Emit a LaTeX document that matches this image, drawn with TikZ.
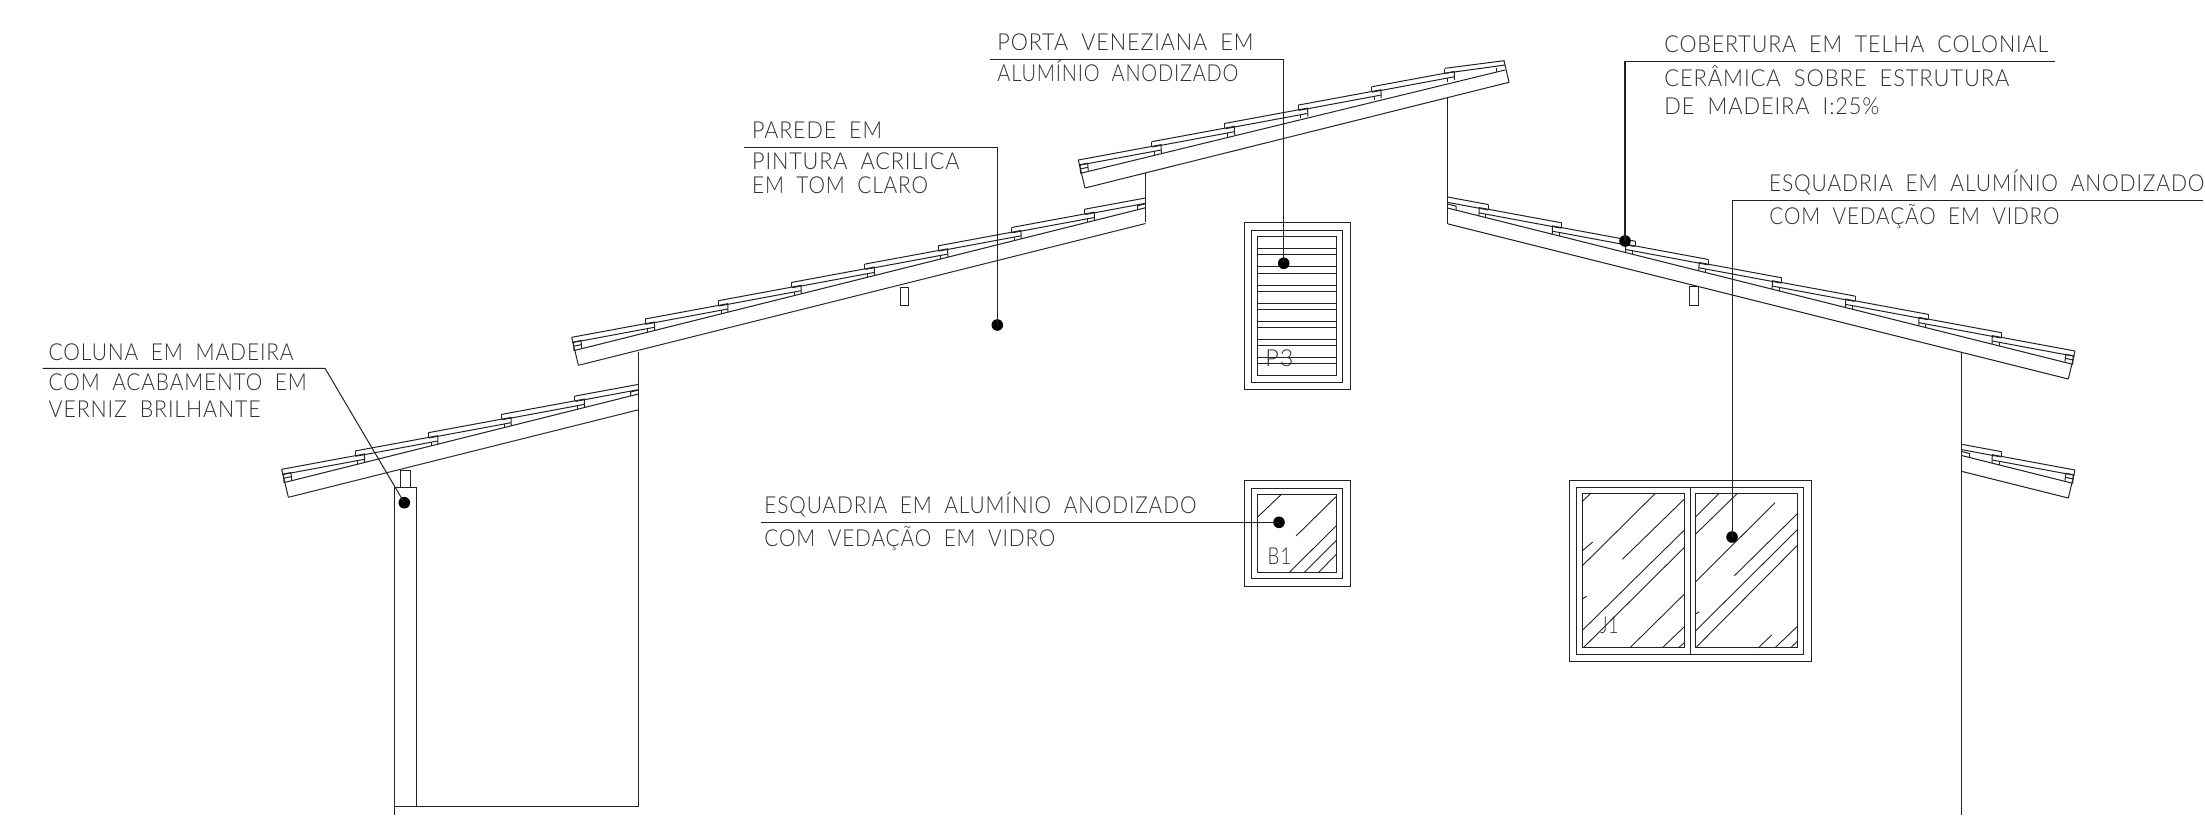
\documentclass[tikz,border=0pt]{standalone}
\usepackage{fontspec}
\usepackage{graphicx}
\setmainfont{Lato}[UprightFont=* Light]
\definecolor{ln}{HTML}{222222}
\definecolor{tx}{HTML}{303030}
\tikzset{
  ink/.style={draw=ln,line width=0.5pt,line join=miter},
  hatchline/.style={draw=ln,line width=0.45pt},
  leader/.style={draw=ln,line width=0.5pt},
  leaderdot/.style={circle,fill=black,inner sep=0pt,minimum size=5.8pt},
  cadtext/.style={anchor=base west,inner sep=0pt,text=tx,font=\fontsize{11.7pt}{13pt}\selectfont\addfontfeature{LetterSpace=4}},
}
\newcommand{\lbl}[5]{\node[cadtext] (#1) at (#2,#3) {\resizebox{\dimexpr #4pt*1/2\relax}{\height}{\spaceskip=0.6em #5}};}
% one tile, local coordinates in px from its lower end
\newcommand{\rooftile}{%
  \draw[ink] (0,0) -- (82.7,-15.3) -- (83,-6.9);
  \draw[ink] (73.3,-18.3) -- (73.3,-13.3);
  \draw[ink] (0.5,5.3) -- (82.7,-10);
  \draw[ink] (76,-8.7) -- (76,-5.1);
}
% eave end of a roof
\newcommand{\roofeave}{%
  \draw[ink] (1.7,4.7) -- (9.3,3.3) -- (10,10.6);
  \draw[ink] (1.7,9) -- (9.6,7.3);
  \draw[ink] (2.3,13.3) -- (1.7,4.7);
  \draw[ink] (0,0) -- (6.7,28);
}
% complete pitch: #1 = last tile index, #2 = run in px up to the wall
\newcommand{\roofpitch}[2]{%
  \begin{scope}
    \clip (-3,-400) rectangle (#2,100);
    \foreach \i in {0,...,#1} {
      \begin{scope}[shift={(73.3*\i,-18.3*\i)}]
        \rooftile
      \end{scope}
    }
    \roofeave
    \draw[ink] (2.3,13.3) -- (#2,{13.3-0.25*(#2-2.3)});
    \draw[ink] (6.7,28) -- (#2,{28-0.25*(#2-6.7)});
    \draw[ink] (#2-8,{13.3-0.25*(#2-10.3)}) -- (#2-8,{9.3-0.25*(#2-10.3)}) -- (#2,{9.3-0.25*(#2-2.3)});
  \end{scope}
}
\begin{document}
\begin{tikzpicture}[x=0.5pt,y=-0.5pt]
\useasboundingbox (0,0) rectangle (2205,815);

% ---- roofs
\begin{scope}[shift={(281.7,469.3)}]\roofpitch{4}{357}\end{scope}
\begin{scope}[shift={(571.7,337.3)}]\roofpitch{7}{574}\end{scope}
\begin{scope}[shift={(2075,351)},xscale=-1]\roofpitch{8}{627}\end{scope}
\begin{scope}[shift={(2075,470)},xscale=-1]\roofpitch{1}{113.3}\end{scope}
\begin{scope}[shift={(1078.3,160)}]
  \foreach \i in {0,...,4} {
    \begin{scope}[shift={(73.3*\i,-18.3*\i)}]\rooftile\end{scope}
  }
  \roofeave
  \draw[ink] (2.3,13.3) -- (426.7,-90);
  \draw[ink] (6.7,28) -- (430.7,-77.7);
  \draw[ink] (366.7,-91.7) -- (425.7,-99.3) -- (430.7,-77.7);
  \draw[ink] (366.7,-86.7) -- (426.7,-95);
  \draw[ink] (418,-88) -- (418,-92);
\end{scope}

% ---- walls and column
\draw[ink] (638.7,351.7) -- (638.7,806);
\draw[ink] (394,815) -- (394,487) -- (416.7,487) -- (416.7,806);
\draw[ink] (394,806) -- (638.7,806);
\draw[ink] (400,487) -- (400,470) -- (410,470) -- (410,487);
\draw[ink] (1145.7,173.3) -- (1145.7,222);
\draw[ink] (1447.7,98.3) -- (1447.7,224);
\draw[ink] (1961.7,353.3) -- (1961.7,815);
\draw[ink] (900,287) rectangle (908,305);
\draw[ink] (1689,286.7) rectangle (1698.3,305);

% ---- door P3
\draw[ink] (1244,222.7) rectangle (1350,389.3);
\draw[ink] (1251.3,230.7) rectangle (1342.3,382);
\draw[ink] (1257.3,236.7) rectangle (1336,375.7);
\foreach \s in {248.7,254.7,266.7,273,285,291,303.3,309.3,321.3,327.3,339.3,345.3,357.3,363.3}
  \draw[hatchline] (1257.3,\s) -- (1336,\s);
\node[cadtext] (p3) at (1265,366) {\resizebox{14pt}{\height}{P3}};

% ---- window B1
\draw[ink] (1244,480) rectangle (1350,586);
\draw[ink] (1251.3,488) rectangle (1342.3,578.3);
\draw[ink] (1257.3,494) rectangle (1336,572.7);
\draw[hatchline] (1257.3,517.3) -- (1281.7,494);
\draw[hatchline] (1296,536) -- (1336,496.7);
\draw[hatchline] (1289,572.7) -- (1336,526);
\draw[hatchline] (1304,572.7) -- (1336,540.7);
\draw[hatchline] (1318.3,572.7) -- (1336,554.7);
\node[cadtext] (b1) at (1267.3,564) {\resizebox{11.7pt}{\height}{B1}};

% ---- window J1
\draw[ink] (1569,480) rectangle (1811,661);
\draw[ink] (1576,487.7) rectangle (1803.3,654);
\draw[ink] (1690,487.7) -- (1690,654);
\draw[ink] (1582,493.3) rectangle (1684.3,647.7);
\draw[ink] (1695.7,493.3) rectangle (1797.7,647.7);
\begin{scope}[shift={(1550,470)},x=0.1667pt,y=-0.1667pt]
\foreach \a/\b/\c/\d in {96/95/122/70,96/243/128/216,96/288/316/70,217/268/403/87,96/482/403/180,100/533/403/232,96/388/110/378,240/533/403/372,337/533/403/470,385/533/403/518,
  437/140/507/70,437/192/562/70,437/335/675/98,553/317/743/130,437/482/743/178,437/533/743/225,437/432/448/425,625/533/665/495,675/533/743/468,722/533/743/513}
  \draw[hatchline] (\a,\b) -- (\c,\d);
\end{scope}
\node[cadtext] (j1) at (1600,633) {\resizebox{9pt}{\height}{J1}};

% ---- dots
\node[leaderdot] (dColuna) at (404.3,502.7) {};
\node[leaderdot] (dParede) at (997.3,325) {};
\node[leaderdot] (dPorta) at (1283.7,263.3) {};
\node[leaderdot] (dCobertura) at (1625,241) {};
\node[leaderdot] (dEsqA) at (1732,537) {};
\node[leaderdot] (dEsqB) at (1279,522.3) {};

% ---- leaders
\coordinate (kColuna) at (325,368.3);
\coordinate (eColuna) at (42.7,368.3);
\draw[leader] (eColuna) -- (kColuna) -- (dColuna.center);
\coordinate (kParede) at (997.3,147.3);
\coordinate (eParede) at (744,147.3);
\draw[leader] (eParede) -- (kParede) -- (dParede.center);
\coordinate (kPorta) at (1283.7,59.3);
\coordinate (ePorta) at (990,59.3);
\draw[leader] (ePorta) -- (kPorta) -- (dPorta.center);
\coordinate (kCobertura) at (1625,61.7);
\coordinate (eCobertura) at (2054.6,61.7);
\draw[leader,line width=0.7pt] (eCobertura) -- (kCobertura) -- (dCobertura.center);
\coordinate (kEsqA) at (1732,200);
\coordinate (eEsqA) at (2203,200);
\draw[leader] (eEsqA) -- (kEsqA) -- (dEsqA.center);
\coordinate (eEsqB) at (761,522.3);
\draw[leader] (eEsqB) -- (dEsqB.center);

% ---- labels
\lbl{t1}{48.3}{360}{245}{COLUNA EM MADEIRA}
\lbl{t2}{48.3}{390}{258}{COM ACABAMENTO EM}
\lbl{t3}{48.3}{417.3}{212}{VERNIZ BRILHANTE}
\lbl{t4}{751.7}{138.3}{130}{PAREDE EM}
\lbl{t5}{751.7}{169.3}{207.5}{PINTURA ACRILICA}
\lbl{t6}{751.7}{193.3}{176}{EM TOM CLARO}
\lbl{t7}{997}{50.7}{256}{PORTA VENEZIANA EM}
\lbl{t8}{997}{81}{241}{ALUMÍNIO ANODIZADO}
\lbl{t9}{1664}{52.7}{384}{COBERTURA EM TELHA COLONIAL}
\lbl{t10}{1664}{86.7}{345}{CERÂMICA SOBRE ESTRUTURA}
\lbl{t11}{1664}{114}{215}{DE MADEIRA I:25\%}
\lbl{t12}{1768.6}{191.7}{435.4}{ESQUADRIA EM ALUMÍNIO ANODIZADO}
\lbl{t13}{1769}{224.3}{290}{COM VEDAÇÃO EM VIDRO}
\lbl{t14}{764}{513.3}{432}{ESQUADRIA EM ALUMÍNIO ANODIZADO}
\lbl{t15}{764}{546}{291}{COM VEDAÇÃO EM VIDRO}
\end{tikzpicture}
\end{document}
